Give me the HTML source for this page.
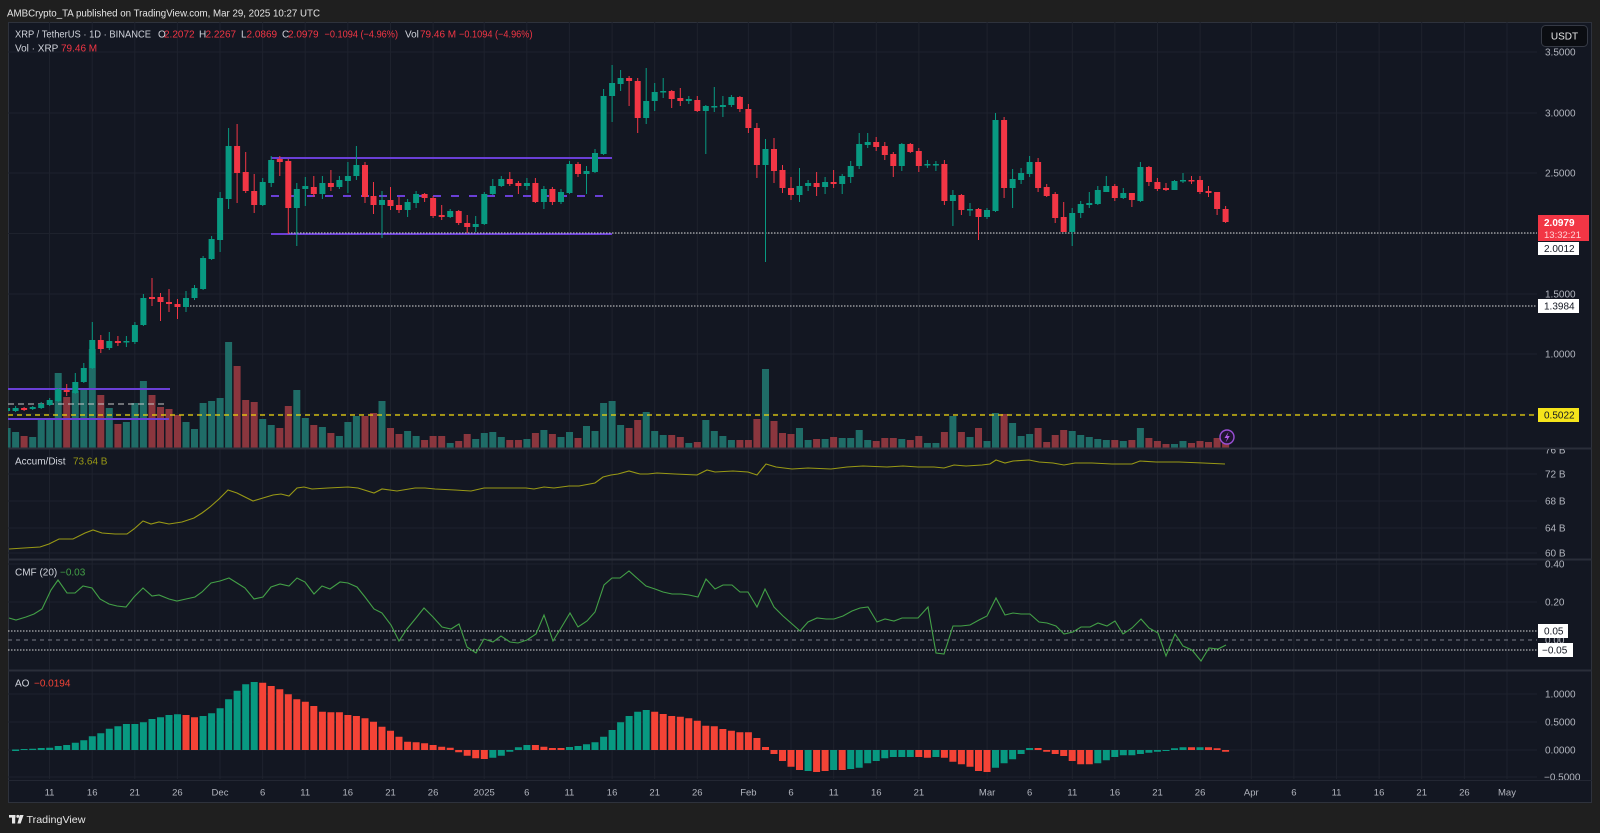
<!DOCTYPE html>
<html><head><meta charset="utf-8"><style>
html,body{margin:0;padding:0;background:#1f1f1f;}
svg{display:block;font-family:"Liberation Sans",sans-serif;}
</style></head><body>
<svg width="1600" height="833" viewBox="0 0 1600 833" xmlns="http://www.w3.org/2000/svg">
<defs>
<clipPath id="plot"><rect x="8" y="22" width="1529" height="757"/></clipPath>
<clipPath id="main"><rect x="8" y="22" width="1529" height="426"/></clipPath>
<clipPath id="adaxis"><rect x="1537" y="449" width="55" height="110"/></clipPath>
</defs>
<rect x="0" y="0" width="1600" height="833" fill="#1f1f1f"/>
<text x="7" y="16.5" font-size="10.5" fill="#e6e6e6" textLength="313" lengthAdjust="spacingAndGlyphs">AMBCrypto_TA published on TradingView.com, Mar 29, 2025 10:27 UTC</text>
<rect x="8.5" y="22.5" width="1583" height="780" fill="#131722" stroke="#2e323c"/>

<!-- grid -->
<g stroke="#1e222d" stroke-width="1" clip-path="url(#plot)">
<path d="M49.5 22V779M92.2 22V779M134.8 22V779M177.4 22V779M220 22V779M262.6 22V779M305.2 22V779M347.8 22V779M390.5 22V779M433.1 22V779M484.2 22V779M526.8 22V779M569.4 22V779M612.1 22V779M654.7 22V779M697.3 22V779M748.4 22V779M791 22V779M833.7 22V779M876.3 22V779M918.9 22V779M987.1 22V779M1029.7 22V779M1072.3 22V779M1114.9 22V779M1157.5 22V779M1200.1 22V779M1251.3 22V779M1293.9 22V779M1336.5 22V779M1379.1 22V779M1421.7 22V779M1464.4 22V779M1507 22V779"/>
<path d="M8 52H1537M8 113H1537M8 173H1537M8 233.5H1537M8 294H1537M8 354H1537M8 414H1537M8 474H1537M8 501H1537M8 528H1537M8 553H1537M8 564H1537M8 602H1537M8 694H1537M8 722H1537M8 750H1537M8 777H1537"/>
</g>

<!-- volume -->
<g clip-path="url(#main)" stroke-width="7" fill="none">
<path stroke="#1f6c67" d="M7.1 428V448M15.6 432V448M32.7 437V448M41.2 418V448M49.7 420V448M58.2 373V448M75.3 391V448M83.8 390V448M92.3 349V448M109.3 408V448M126.4 422V448M134.9 403V448M143.4 381V448M186 422V448M194.5 429V448M203.1 403V448M211.6 401V448M220.1 398V448M228.6 342V448M262.7 419V448M271.2 425V448M296.8 390V448M305.3 418V448M322.4 427V448M339.4 436V448M347.9 422V448M356.4 416V448M382 401V448M407.6 431V448M416.1 436V448M450.2 443V448M475.7 439V448M484.3 433V448M492.8 432V448M501.3 437V448M526.9 439V448M543.9 430V448M561 437V448M569.5 432V448M586.5 426V448M595 431V448M603.6 403V448M612.1 401V448M620.6 425V448M646.2 412V448M654.7 431V448M663.2 435V448M688.8 443V448M705.8 420V448M714.3 431V448M722.9 436V448M731.4 440V448M765.5 369V448M799.5 428V448M808.1 440V448M825.1 439V448M842.2 438V448M850.7 438V448M859.2 430V448M867.7 440V448M901.8 439V448M927.4 443V448M935.9 443V448M952.9 416V448M970 437V448M987 441V448M995.5 413V448M1012.6 423V448M1021.1 436V448M1029.6 434V448M1072.2 431V448M1080.7 435V448M1089.3 437V448M1097.8 439V448M1106.3 440V448M1123.3 441V448M1140.4 428V448M1174.5 444V448M1183 441V448"/>
<path stroke="#8a363e" d="M24.1 436V448M66.7 397V448M100.8 395V448M117.9 424V448M152 395V448M160.5 407V448M169 409V448M177.5 415V448M237.1 366V448M245.7 400V448M254.2 402V448M279.8 428V448M288.3 406V448M313.8 425V448M330.9 433V448M365 416V448M373.5 413V448M390.5 428V448M399 434V448M424.6 440V448M433.1 436V448M441.7 436V448M458.7 441V448M467.2 434V448M509.8 440V448M518.4 440V448M535.4 433V448M552.4 434V448M578 438V448M629.1 428V448M637.7 420V448M671.7 435V448M680.3 437V448M697.3 442V448M739.9 440V448M748.4 440V448M756.9 419V448M774 421V448M782.5 433V448M791 434V448M816.6 439V448M833.6 437V448M876.2 441V448M884.8 438V448M893.3 438V448M910.3 440V448M918.8 436V448M944.4 432V448M961.4 432V448M978.5 428V448M1004.1 414V448M1038.1 428V448M1046.7 442V448M1055.2 435V448M1063.7 430V448M1114.8 440V448M1131.9 440V448M1148.9 438V448M1157.4 441V448M1166 444V448M1191.5 443V448M1200 441V448M1208.5 442V448M1217.1 438V448M1225.6 434V448"/>
</g>

<!-- drawings -->
<g clip-path="url(#main)" fill="none">
<path d="M8 415H1537" stroke="#f2d80c" stroke-width="1.3" stroke-dasharray="5 4"/>
<path d="M8 389H170M8 419H169" stroke="#6a3fd6" stroke-width="2"/>
<path d="M8 404H165" stroke="#c8c8c8" stroke-width="1" stroke-dasharray="6 4"/>
<path d="M271 158H612M271 234H612" stroke="#6a3fd6" stroke-width="2"/>
<path d="M271 196H606" stroke="#6a3fd6" stroke-width="2" stroke-dasharray="8 10"/>
<path d="M288 233H1537M187 306H1537" stroke="#d8d8d8" stroke-width="1" stroke-dasharray="1.5 1.5"/>
</g>

<!-- candles -->
<g clip-path="url(#main)" fill="none">
<path stroke="#089981" stroke-width="1" d="M7.1 407V412M15.6 406V412M32.7 406V410M41.2 402V409M49.7 398V406M58.2 388V402M75.3 373V394M83.8 363V383M92.3 322V369M109.3 332V350M126.4 336V347M134.9 322V344M143.4 294V326M186 291V312M194.5 285V300M203.1 256V290M211.6 236V260M220.1 192V252M228.6 128V209M262.7 178V206M271.2 156V187M296.8 183V246M305.3 177V206M322.4 176V199M339.4 176V189M347.9 162V193M356.4 146V180M382 191V238M407.6 199V217M416.1 191V208M450.2 209V218M475.7 216V232M484.3 192V225M492.8 179V195M501.3 176V187M526.9 178V190M543.9 186V209M561 189V204M569.5 161V194M586.5 166V194M595 149V173M603.6 89V155M612.1 65V122M620.6 70V91M646.2 68V124M654.7 83V111M663.2 78V98M688.8 96V104M705.8 105V154M714.3 87V112M722.9 96V117M731.4 95V107M765.5 139V262M799.5 168V202M808.1 180V191M825.1 177V194M842.2 174V194M850.7 161V183M859.2 133V169M867.7 133V148M901.8 143V171M927.4 160V168M935.9 161V171M952.9 190V226M970 203V216M987 208V219M995.5 113V212M1012.6 169V208M1021.1 168V184M1029.6 156V177M1072.2 208V246M1080.7 201V218M1089.3 192V208M1097.8 186V205M1106.3 176V192M1123.3 188V199M1140.4 162V202M1174.5 180V190M1183 173V183"/>
<path stroke="#089981" stroke-width="6" d="M7.1 408V411M15.6 408V411M32.7 407V409M41.2 404V408M49.7 400V405M58.2 389V401M75.3 382V393M83.8 368V382M92.3 340V368M109.3 341V348M126.4 341V342.5M134.9 325V342M143.4 298V325M186 298V307M194.5 288V298M203.1 258V289M211.6 239V259M220.1 198V240M228.6 146V199M262.7 182V205M271.2 160V183M296.8 189V208M305.3 186V189M322.4 183V194M339.4 180V187M347.9 176V181M356.4 165V176M382 200V205M407.6 202V210M416.1 194V203M450.2 211V217M475.7 224V227M484.3 194V224M492.8 186V194M501.3 179V186M526.9 183V186M543.9 189V202M561 192V202M569.5 164V193M586.5 171V174M595 153V172M603.6 96V154M612.1 83V96M620.6 78V84M646.2 101V118M654.7 92V101M663.2 91V92.5M688.8 99V101M705.8 106V111M714.3 106V107.5M722.9 105V107M731.4 97V105M765.5 149V165M799.5 186V195M808.1 183V186M825.1 182V187M842.2 176V184M850.7 166V177M859.2 144V166M867.7 142V145M901.8 144V166M927.4 164V165.5M935.9 164V165.5M952.9 195V201M970 209V210.5M987 210V217M995.5 120V211M1012.6 179V188M1021.1 173V180M1029.6 162V174M1072.2 213V232M1080.7 204V213M1089.3 203V205M1097.8 190V204M1106.3 186V192M1123.3 193V198M1140.4 167V201M1174.5 181V190M1183 180V181.5"/>
<path stroke="#f23645" stroke-width="1" d="M24.1 407V411M66.7 384V396M100.8 335V353M117.9 336V346M152 278V306M160.5 293V321M169 289V312M177.5 299V319M237.1 124V203M245.7 152V193M254.2 174V213M279.8 156V176M288.3 159V234M313.8 176V197M330.9 170V191M365 162V203M373.5 182V214M390.5 187V210M399 197V213M424.6 193V202M433.1 196V218M441.7 205V220M458.7 210V225M467.2 215V233M509.8 172V186M518.4 181V194M535.4 178V203M552.4 187V205M578 162V177M629.1 76V106M637.7 78V133M671.7 90V108M680.3 88V106M697.3 96V112M739.9 96V112M748.4 104V133M756.9 123V178M774 138V183M782.5 165V193M791 177V200M816.6 172V196M833.6 170V188M876.2 137V151M884.8 142V160M893.3 152V177M910.3 143V153M918.8 148V172M944.4 160V205M961.4 194V215M978.5 208V240M1004.1 117V198M1038.1 158V192M1046.7 184V197M1055.2 192V223M1063.7 202V232M1114.8 184V201M1131.9 193V207M1148.9 166V186M1157.4 178V191M1166 183V191M1191.5 176V184M1200 176V194M1208.5 186V197M1217.1 192V215M1225.6 206V223"/>
<path stroke="#f23645" stroke-width="6" d="M24.1 408V410M66.7 390V392M100.8 340V349M117.9 341V343M152 297V299M160.5 297V302M169 302V304M177.5 304V307M237.1 146V173M245.7 172V191M254.2 191V205M279.8 159V162M288.3 161V208M313.8 187V194M330.9 183V187M365 165V197M373.5 196V205M390.5 200V206M399 205V210M424.6 194V198M433.1 198V216M441.7 215V217M458.7 211V223M467.2 223V227M509.8 179V184M518.4 183V186M535.4 183V202M552.4 189V202M578 164V174M629.1 78V81M637.7 81V118M671.7 91V99M680.3 98V101M697.3 100V111M739.9 97V109M748.4 109V128M756.9 128V165M774 149V171M782.5 170V188M791 188V195M816.6 183V187M833.6 182V184M876.2 142V147M884.8 146V155M893.3 154V166M910.3 144V152M918.8 151V166M944.4 164V201M961.4 195V210M978.5 209V217M1004.1 120V188M1038.1 162V188M1046.7 187V196M1055.2 194V218M1063.7 217V232M1114.8 186V198M1131.9 193V200M1148.9 167V182M1157.4 182V189M1166 188V190M1191.5 180V181.5M1200 180V192M1208.5 191V193M1217.1 192V209M1225.6 209V222"/>
</g>

<!-- lightning icon -->
<circle cx="1227" cy="437" r="7" fill="#1f1530" stroke="#9a4fd6" stroke-width="1.4"/>
<path d="M1228.5 432L1224.5 438H1227.2L1225.6 442.5L1229.8 436H1227.2Z" fill="#b05ae8"/>

<!-- pane separators -->
<path d="M8 448.5H1592M8 559.5H1592M8 670.5H1592" stroke="#2a2e39" stroke-width="2"/>

<!-- A/D -->
<polyline fill="none" stroke="#999915" stroke-width="1.1" points="9,549 24,548 40,547 49,544 59,539 73,539 85,533 93,530 102,533 115,534 127,534 134,529 143,521 151,524 159,522 169,524 182,522 194,518 202,513 210,507 219,499 228,490 237,493 253,501 263,498 273,495 281,494 289,496 297,488 304,487 312,489 328,488 348,487 358,488 374,493 382,489 397,491 415,488 425,488 435,489 455,490 471,491 484,488 502,488 526,488 534,489 544,487 554,488 569,486 579,486 595,483 603,477 611,475 618,474 629,471 640,474 648,474 657,473 675,474 697,475 707,470 715,472 733,471 748,472 757,475 766,464 776,467 792,469 808,468 831,469 847,467 863,466 887,467 903,466 918,467 934,467 944,468 954,465 966,466 982,465 990,464 996,460 1005,463 1013,461 1029,460 1039,462 1053,463 1064,465 1075,463 1092,463 1112,464 1132,464 1140,461 1156,462 1179,462 1203,463 1225,464"/>

<!-- CMF -->
<g fill="none" clip-path="url(#plot)">
<path d="M8 631H1537M8 650H1537" stroke="#d6d6d6" stroke-width="1" stroke-dasharray="1.5 1.5"/>
<path d="M8 640H1537" stroke="#787b86" stroke-width="1" stroke-dasharray="4 4"/>
<polyline stroke="#43a047" stroke-width="1.1" points="9,618 16,620 26,617 34,614 42,609 51,590 58,580 67,593 75,593 83,586 92,588 100,599 109,604 117,606 126,607 134,597 143,588 152,596 159,595 169,599 177,601 186,599 195,597 202,592 211,583 220,581 229,578 237,583 245,588 254,599 263,597 271,587 280,584 289,586 297,578 305,582 314,594 322,586 330,589 340,582 348,583 357,587 365,597 374,609 382,613 391,625 399,641 407,629 416,618 424,608 433,617 442,627 451,629 459,624 467,647 476,653 484,639 493,642 501,636 510,642 518,643 527,640 536,634 544,615 553,641 561,628 570,613 578,627 587,621 595,612 604,585 612,578 620,578 629,571 638,579 646,586 655,589 663,592 672,594 681,594 689,595 698,597 706,579 715,589 723,585 732,585 740,592 748,592 757,607 765,589 774,607 783,616 791,623 800,631 808,622 817,618 826,619 834,619 843,616 852,611 860,608 868,607 877,622 885,619 894,621 902,618 918,618 928,607 936,653 944,654 953,626 961,626 970,625 979,620 987,616 996,598 1005,615 1013,613 1021,614 1030,614 1039,622 1047,623 1056,626 1064,634 1073,632 1081,627 1090,627 1098,623 1107,626 1115,621 1123,634 1132,628 1141,619 1149,628 1158,633 1166,656 1175,634 1183,646 1192,650 1201,661 1209,648 1218,649 1226,645"/>
</g>

<!-- AO -->
<g fill="none" stroke-width="7" clip-path="url(#plot)">
<path stroke="#089981" d="M15.6 749.5V751M24.1 749V750M32.7 748.7V750M41.2 748V750M49.7 747.7V750M58.2 746V750M66.7 745V750M75.3 742.7V750M83.8 740.3V750M92.3 736.3V750M100.8 733.3V750M109.3 728.7V750M117.9 726.3V750M126.4 724V750M134.9 724V750M143.4 722.3V750M152 719V750M160.5 717.3V750M169 715V750M177.5 714.3V750M203.1 716V750M211.6 713.3V750M220.1 708.3V750M228.6 699.3V750M237.1 690.7V750M245.7 684.3V750M254.2 682V750M492.8 750V757.7M501.3 750V755.7M509.8 750V751.7M518.4 747.3V750M526.9 745V750M569.5 747V750M578 746V750M586.5 744.3V750M595 742.3V750M603.6 736.7V750M612.1 730V750M620.6 722.3V750M629.1 716V750M637.7 711.7V750M646.2 710V750M808.1 750V771M833.6 750V770M850.7 750V769M859.2 750V767.7M867.7 750V763.3M876.2 750V761M884.8 750V758.3M893.3 750V757M901.8 750V757M910.3 750V757M935.9 750V757M995.5 750V767.7M1004.1 750V763.3M1012.6 750V759.3M1021.1 750V754M1029.6 748V750M1097.8 750V763.3M1106.3 750V760.3M1114.8 750V757M1123.3 750V755.3M1131.9 750V755.3M1140.4 750V754M1148.9 750V752.7M1157.4 750V751.7M1166 750V751M1174.5 748.3V750M1183 747.3V750M1200 747.3V750"/>
<path stroke="#f44336" d="M186 715V750M194.5 717.3V750M262.7 682.7V750M271.2 686V750M279.8 689.3V750M288.3 694.3V750M296.8 699.3V750M305.3 701.7V750M313.8 706V750M322.4 711.7V750M330.9 712.3V750M339.4 712.3V750M347.9 715V750M356.4 716V750M365 718.3V750M373.5 721.7V750M382 726.7V750M390.5 730.7V750M399 736.7V750M407.6 741.7V750M416.1 742.3V750M424.6 743.3V750M433.1 745V750M441.7 746.7V750M450.2 747.7V750M458.7 750V752.3M467.2 750V755.7M475.7 750V758.3M484.3 750V759M535.4 745V750M543.9 746.7V750M552.4 748V750M561 748V750M654.7 711.7V750M663.2 714V750M671.7 716V750M680.3 716.7V750M688.8 718.3V750M697.3 720.7V750M705.8 725.7V750M714.3 726.3V750M722.9 729V750M731.4 730.7V750M739.9 732.3V750M748.4 732.3V750M756.9 738V750M765.5 747V750M774 750V754M782.5 750V761M791 750V766.7M799.5 750V770M816.6 750V772M825.1 750V771M842.2 750V770M918.8 750V757M927.4 750V757.7M944.4 750V757.7M952.9 750V761.7M961.4 750V764.3M970 750V766.7M978.5 750V771M987 750V772M1038.1 748V750M1046.7 750V751.7M1055.2 750V754M1063.7 750V756M1072.2 750V761M1080.7 750V764.3M1089.3 750V764.3M1191.5 747.3V750M1208.5 747.3V750M1217.1 748.3V750M1225.6 750V751.7"/>
</g>

<!-- legends -->
<g font-size="10">
<text x="15" y="37.5" fill="#d1d4dc" textLength="136" lengthAdjust="spacingAndGlyphs">XRP / TetherUS · 1D · BINANCE</text>
<text x="158" y="37.5" fill="#d1d4dc">O</text><text x="164" y="37.5" fill="#f23645">2.2072</text>
<text x="199" y="37.5" fill="#d1d4dc">H</text><text x="205.5" y="37.5" fill="#f23645">2.2267</text>
<text x="241" y="37.5" fill="#d1d4dc">L</text><text x="246.5" y="37.5" fill="#f23645">2.0869</text>
<text x="282" y="37.5" fill="#d1d4dc">C</text><text x="288" y="37.5" fill="#f23645">2.0979</text>
<text x="324.5" y="37.5" fill="#f23645" textLength="73.5" lengthAdjust="spacingAndGlyphs">−0.1094 (−4.96%)</text>
<text x="405" y="37.5" fill="#d1d4dc">Vol</text><text x="420" y="37.5" fill="#f23645">79.46 M</text>
<text x="459" y="37.5" fill="#f23645" textLength="73.5" lengthAdjust="spacingAndGlyphs">−0.1094 (−4.96%)</text>
<text x="15" y="51.5" fill="#d1d4dc">Vol · XRP</text><text x="61" y="51.5" fill="#f23645">79.46 M</text>
<text x="15" y="464.5" fill="#d1d4dc">Accum/Dist</text><text x="73" y="464.5" fill="#999915">73.64 B</text>
<text x="15" y="575.5" fill="#d1d4dc">CMF (20)</text><text x="60" y="575.5" fill="#43a047">−0.03</text>
<text x="15" y="686.5" fill="#d1d4dc">AO</text><text x="34" y="686.5" fill="#f44336">−0.0194</text>
</g>

<!-- price axis labels -->
<g font-size="10" fill="#b2b5be">
<text x="1545" y="55.5">3.5000</text>
<text x="1545" y="116.5">3.0000</text>
<text x="1545" y="176.5">2.5000</text>
<text x="1545" y="297.5">1.5000</text>
<text x="1545" y="357.5">1.0000</text>
<text x="1545" y="453.5" clip-path="url(#adaxis)">76 B</text>
<text x="1545" y="477.5">72 B</text>
<text x="1545" y="504.5">68 B</text>
<text x="1545" y="531.5">64 B</text>
<text x="1545" y="556.5">60 B</text>
<text x="1545" y="567.5">0.40</text>
<text x="1545" y="605.5">0.20</text>
<text x="1545" y="643.5">0.00</text>
<text x="1545" y="697.5">1.0000</text>
<text x="1545" y="725.5">0.5000</text>
<text x="1545" y="753.5">0.0000</text>
<text x="1544" y="780.5">−0.5000</text>
</g>

<!-- USDT -->
<rect x="1541.5" y="25.5" width="46" height="21" rx="4" fill="#0b0d12" stroke="#363a45"/>
<text x="1564.5" y="39.5" font-size="10" fill="#e8e8e8" text-anchor="middle">USDT</text>

<!-- price tags -->
<rect x="1538" y="215" width="51" height="26" fill="#f23645"/>
<text x="1544" y="226" font-size="10" font-weight="bold" fill="#ffffff">2.0979</text>
<text x="1544" y="238" font-size="9.5" fill="#ffd4d8">13:32:21</text>
<rect x="1538" y="242" width="41" height="13" fill="#ffffff"/>
<text x="1544" y="252" font-size="10" fill="#131722">2.0012</text>
<rect x="1538" y="299" width="41" height="14" fill="#ffffff"/>
<text x="1544" y="309.5" font-size="10" fill="#131722">1.3984</text>
<rect x="1538" y="408" width="41" height="14" fill="#f5e41b"/>
<text x="1544" y="418.5" font-size="10" fill="#131722">0.5022</text>
<rect x="1538" y="624" width="30" height="14" fill="#ffffff"/>
<text x="1544" y="634.5" font-size="10" fill="#131722">0.05</text>
<rect x="1538" y="643" width="35" height="14" fill="#ffffff"/>
<text x="1542" y="653.5" font-size="10" fill="#131722">−0.05</text>

<!-- time axis -->
<path d="M8 780.5H1592" stroke="#232733" stroke-width="1"/>
<g font-size="9.5" fill="#b2b5be" text-anchor="middle">
<text x="49.5" y="795.5">11</text><text x="92.2" y="795.5">16</text><text x="134.8" y="795.5">21</text><text x="177.4" y="795.5">26</text>
<text x="220" y="795.5">Dec</text><text x="262.6" y="795.5">6</text><text x="305.2" y="795.5">11</text><text x="347.8" y="795.5">16</text><text x="390.5" y="795.5">21</text><text x="433.1" y="795.5">26</text>
<text x="484.2" y="795.5">2025</text><text x="526.8" y="795.5">6</text><text x="569.4" y="795.5">11</text><text x="612.1" y="795.5">16</text><text x="654.7" y="795.5">21</text><text x="697.3" y="795.5">26</text>
<text x="748.4" y="795.5">Feb</text><text x="791" y="795.5">6</text><text x="833.7" y="795.5">11</text><text x="876.3" y="795.5">16</text><text x="918.9" y="795.5">21</text>
<text x="987.1" y="795.5">Mar</text><text x="1029.7" y="795.5">6</text><text x="1072.3" y="795.5">11</text><text x="1114.9" y="795.5">16</text><text x="1157.5" y="795.5">21</text><text x="1200.1" y="795.5">26</text>
<text x="1251.3" y="795.5">Apr</text><text x="1293.9" y="795.5">6</text><text x="1336.5" y="795.5">11</text><text x="1379.1" y="795.5">16</text><text x="1421.7" y="795.5">21</text><text x="1464.4" y="795.5">26</text>
<text x="1507" y="795.5">May</text>
</g>

<!-- footer logo -->
<g fill="#e6e6e6">
<rect x="9" y="815" width="6.5" height="2.6"/>
<rect x="12" y="815" width="3.2" height="8.5"/>
<circle cx="17.8" cy="816.4" r="1.5"/>
<path d="M19.8 815H23.6L20.6 823.5H17.4Z"/>
</g>
<text x="26.5" y="823" font-size="10.5" fill="#e6e6e6" textLength="59" lengthAdjust="spacingAndGlyphs">TradingView</text>
</svg>
</body></html>
